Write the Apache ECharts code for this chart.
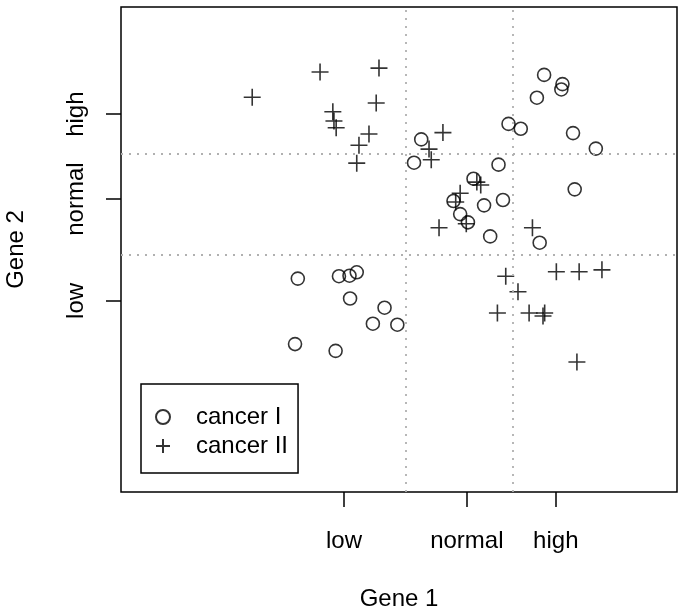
<!DOCTYPE html>
<html>
<head>
<meta charset="utf-8">
<script src="https://cdn.jsdelivr.net/npm/echarts@6/dist/echarts.min.js"></script>
<style>
html,body{margin:0;padding:0;background:#fff;}
#chart{width:685px;height:611px;}
</style>
</head>
<body>
<div id="chart"></div>
<script>
// Gene expression values (arbitrary linear units)
const cancerIGene1 = [76.1, 79.4, 79.2, 74.8, 69.7, 71.9, 81.3, 54.0, 85.4, 52.7,
                      67.9, 63.4, 81.6, 59.8, 68.7, 65.3, 61.0, 62.4, 66.4, 75.3,
                      31.8, 39.2, 41.1, 42.4, 41.2, 47.4, 45.3, 49.7, 31.3, 38.6];
const cancerIGene2 = [86.0, 84.1, 83.0, 81.3, 75.9, 74.9, 74.0, 72.7, 70.8, 67.9,
                      67.5, 64.6, 62.4, 60.0, 60.2, 59.1, 57.3, 55.6, 52.7, 51.4,
                      44.0, 44.5, 44.6, 45.3, 39.9, 38.0, 34.7, 34.5, 30.5, 29.1];
const cancerIIGene1 = [23.6, 35.8, 46.4, 38.1, 38.3, 38.7, 45.9, 44.6, 42.8, 42.4,
                       57.9, 55.4, 55.8, 64.0, 64.7, 61.0, 60.2, 62.1, 57.2, 74.0,
                       69.2, 71.4, 67.7, 73.4, 76.2, 75.9, 78.3, 82.4, 86.5, 82.0];
const cancerIIGene2 = [81.4, 86.6, 87.4, 78.4, 76.5, 75.1, 80.2, 73.8, 71.5, 67.8,
                       74.1, 70.7, 68.5, 63.9, 63.3, 61.6, 59.8, 55.3, 54.5, 54.5,
                       44.5, 41.3, 36.9, 36.9, 36.9, 36.3, 45.4, 45.4, 45.8, 26.8];

const xTickValues = [40.1, 62.2, 78.2];
const xTickLabels = ['low', 'normal', 'high'];
const yTickValues = [39.4, 60.4, 77.9];
const yTickLabels = ['low', 'normal', 'high'];
const gene1Cutoffs = [51.3, 70.5];
const gene2Cutoffs = [48.9, 69.7];
const seriesNames = ['cancer I', 'cancer II'];

function pairs(xs, ys) { return xs.map((x, i) => [x, ys[i]]); }
function labelFor(values, labels) {
  return function (v) {
    for (let i = 0; i < values.length; i++) {
      if (Math.abs(values[i] - v) < 1e-6) return labels[i];
    }
    return '';
  };
}

const FONT = 'Liberation Sans';
const crossPath = 'path://M0,8L16,8M8,0L8,16';

const chart = echarts.init(document.getElementById('chart'), null, {renderer: 'canvas'});
chart.setOption({
  animation: false,
  backgroundColor: '#ffffff',
  textStyle: {fontFamily: FONT, color: '#000'},
  grid: {
    left: 121, right: 8, top: 7, bottom: 119,
    outerBoundsMode: 'none', containLabel: false,
    show: true, borderColor: '#000', borderWidth: 1.5, backgroundColor: 'transparent'
  },
  xAxis: {
    type: 'value', min: 0, max: 100,
    name: 'Gene 1', nameLocation: 'middle', nameGap: 95,
    nameTextStyle: {fontSize: 24, color: '#000', fontFamily: FONT},
    axisLine: {show: false},
    splitLine: {show: false},
    axisTick: {show: true, customValues: xTickValues, length: 15, inside: false,
               lineStyle: {color: '#000', width: 1.5}},
    axisLabel: {show: true, customValues: xTickValues, margin: 37, fontSize: 24,
                color: '#000', fontFamily: FONT,
                formatter: labelFor(xTickValues, xTickLabels)}
  },
  yAxis: {
    type: 'value', min: 0, max: 100,
    name: 'Gene 2', nameLocation: 'middle', nameGap: 93,
    nameTextStyle: {fontSize: 24, color: '#000', fontFamily: FONT},
    axisLine: {show: false},
    splitLine: {show: false},
    axisTick: {show: true, customValues: yTickValues, length: 15, inside: false,
               lineStyle: {color: '#000', width: 1.5}},
    axisLabel: {show: true, customValues: yTickValues, margin: 33, fontSize: 24,
                rotate: 90, color: '#000', fontFamily: FONT,
                formatter: labelFor(yTickValues, yTickLabels)}
  },
  legend: {
    orient: 'vertical', left: 141, top: 384,
    data: seriesNames,
    backgroundColor: '#fff',
    borderColor: '#000', borderWidth: 1.5, borderRadius: 0,
    padding: [21, 10, 15, 14],
    itemWidth: 16, itemHeight: 14, itemGap: 5,
    selectedMode: false,
    textStyle: {fontSize: 24, color: '#000', fontFamily: FONT, padding: [0, 0, 0, 20]}
  },
  series: [
    {
      name: seriesNames[0], type: 'scatter',
      data: pairs(cancerIGene1, cancerIGene2),
      symbol: 'circle', symbolSize: 13,
      itemStyle: {color: 'rgba(0,0,0,0)', borderColor: '#000', borderWidth: 1.6},
      emphasis: {disabled: true},
      markLine: {
        silent: true, symbol: 'none', label: {show: false},
        lineStyle: {color: '#b0b0b0', type: [2, 6], width: 1.8},
        data: gene1Cutoffs.map(v => ({xAxis: v})).concat(gene2Cutoffs.map(v => ({yAxis: v})))
      },
      z: 3
    },
    {
      name: seriesNames[1], type: 'scatter',
      data: pairs(cancerIIGene1, cancerIIGene2),
      symbol: crossPath, symbolSize: 17, symbolKeepAspect: true,
      itemStyle: {color: 'rgba(0,0,0,0)', borderColor: '#000', borderWidth: 1.6},
      emphasis: {disabled: true},
      z: 3
    }
  ]
});
</script>
</body>
</html>
